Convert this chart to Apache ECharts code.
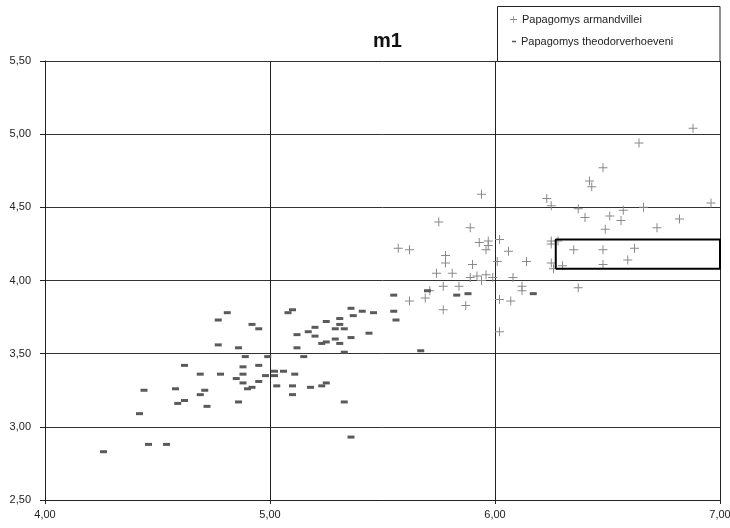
<!DOCTYPE html>
<html>
<head>
<meta charset="utf-8">
<script src="https://cdn.jsdelivr.net/npm/echarts@6/dist/echarts.min.js"></script>
<style>html,body{margin:0;padding:0;background:#fff}#c{width:730px;height:528px}</style>
</head>
<body>
<div id="c"></div>
<script>
const titleText = 'm1';
const seriesNames = ['Papagomys armandvillei', 'Papagomys theodorverhoeveni'];
const xTicks = [4, 5, 6, 7];
const yTicks = [2.5, 3, 3.5, 4, 4.5, 5, 5.5];

const armX = [5.57,5.62,5.62,5.69,5.71,5.74,5.75,5.77,5.77,5.78,5.78,5.81,5.84,5.87,5.89,5.89,5.90,5.92,5.93,5.94,5.94,5.96,5.96,5.97,5.97,5.99,6.01,6.02,6.02,6.02,6.06,6.07,6.08,6.12,6.12,6.14,6.23,6.25,6.25,6.25,6.25,6.26,6.28,6.30,6.35,6.37,6.37,6.40,6.42,6.43,6.48,6.48,6.48,6.49,6.51,6.56,6.57,6.59,6.62,6.64,6.66,6.72,6.82,6.88,6.96];
const armY = [4.22,4.21,3.86,3.88,3.93,4.05,4.40,3.96,3.80,4.17,4.12,4.05,3.96,3.83,4.36,4.02,4.11,4.03,4.26,4.59,4.00,4.04,4.21,4.27,4.24,4.02,4.13,4.28,3.87,3.65,4.20,3.86,4.02,3.93,3.96,4.13,4.56,4.51,4.27,4.25,4.12,4.08,4.27,4.10,4.21,3.95,4.49,4.43,4.68,4.64,4.21,4.11,4.77,4.35,4.44,4.41,4.48,4.14,4.22,4.94,4.50,4.36,4.42,5.04,4.53];

const theoX = [4.26,4.42,4.44,4.46,4.54,4.58,4.59,4.62,4.62,4.69,4.69,4.71,4.72,4.77,4.77,4.78,4.81,4.85,4.86,4.86,4.88,4.88,4.88,4.89,4.90,4.92,4.92,4.95,4.95,4.95,4.98,4.99,5.02,5.02,5.03,5.06,5.08,5.10,5.10,5.10,5.11,5.12,5.12,5.15,5.17,5.18,5.20,5.20,5.23,5.23,5.25,5.25,5.25,5.29,5.29,5.31,5.31,5.31,5.33,5.33,5.33,5.36,5.36,5.36,5.37,5.41,5.44,5.46,5.55,5.55,5.56,5.67,5.70,5.83,5.88,6.17];
const theoY = [2.83,3.09,3.25,2.88,2.88,3.26,3.16,3.42,3.18,3.36,3.22,3.25,3.14,3.73,3.56,3.36,3.78,3.33,3.54,3.17,3.41,3.36,3.30,3.48,3.26,3.70,3.27,3.31,3.67,3.42,3.35,3.48,3.38,3.35,3.28,3.38,3.78,3.80,3.28,3.22,3.36,3.63,3.54,3.48,3.65,3.27,3.62,3.68,3.28,3.57,3.72,3.30,3.58,3.67,3.60,3.74,3.70,3.57,3.51,3.17,3.67,3.61,3.81,2.93,3.76,3.79,3.64,3.78,3.90,3.79,3.73,3.52,3.93,3.90,3.91,3.91];

const boxX = [6.27, 7.0, 7.0, 6.27, 6.27];
const boxY = [4.08, 4.08, 4.28, 4.28, 4.08];

const zip = (a, b) => a.map((v, i) => [v, b[i]]);
const fmt = v => v.toFixed(2).replace('.', ',');
const FONT = "'Liberation Sans', Arial, sans-serif";
const plusPath = 'path://M0,4H9V5H0Z M4,0H5V9H4Z';

const chart = echarts.init(document.getElementById('c'), null, {renderer: 'canvas'});
chart.setOption({
  animation: false,
  backgroundColor: '#fff',
  title: {
    text: titleText, left: 368, top: 26,
    textStyle: {fontFamily: FONT, fontSize: 20, fontWeight: 'bold', color: '#111'}
  },
  grid: {left: 45, right: 10, top: 61, bottom: 28, containLabel: false, outerBoundsMode: 'none'},
  legend: [
    {
      data: [{name: seriesNames[0], icon: plusPath}],
      left: 505, top: 9, itemWidth: 7, itemHeight: 7, itemGap: 4,
      textStyle: {fontFamily: FONT, fontSize: 11, color: '#222', padding: [0, 0, 0, 0]}
    },
    {
      data: [{name: seriesNames[1], icon: 'rect'}],
      left: 507, top: 31, itemWidth: 4, itemHeight: 1.5, itemGap: 4,
      textStyle: {fontFamily: FONT, fontSize: 11, color: '#222', padding: [0, 0, 0, 0]}
    }
  ],
  graphic: [
    {type: 'rect', shape: {x: 497.5, y: 6.5, width: 222.5, height: 55}, style: {fill: 'none', stroke: '#222', lineWidth: 1}, z: 10}
  ],
  xAxis: {
    type: 'value', min: 4, max: 7, interval: 1,
    axisLine: {show: true, onZero: false, lineStyle: {color: '#222', width: 1}},
    axisTick: {show: true, length: 4, lineStyle: {color: '#222'}},
    axisLabel: {formatter: fmt, fontFamily: FONT, fontSize: 11, color: '#222', margin: 9},
    splitLine: {show: true, lineStyle: {color: '#222', width: 1}}
  },
  yAxis: {
    type: 'value', min: 2.5, max: 5.5, interval: 0.5,
    axisLine: {show: true, onZero: false, lineStyle: {color: '#222', width: 1}},
    axisTick: {show: true, length: 5, lineStyle: {color: '#222'}},
    axisLabel: {formatter: fmt, fontFamily: FONT, fontSize: 11, color: '#222', margin: 14},
    splitLine: {show: true, lineStyle: {color: '#333', width: 1}}
  },
  series: [
    {
      name: seriesNames[0], type: 'scatter', data: zip(armX, armY),
      symbol: plusPath, symbolSize: 9,
      itemStyle: {color: '#8a8a8a', opacity: 1}, z: 3
    },
    {
      name: seriesNames[1], type: 'scatter', data: zip(theoX, theoY),
      symbol: 'rect', symbolSize: [7, 3],
      itemStyle: {color: '#5a5a5a', opacity: 1}, z: 3
    },
    {
      name: 'box', type: 'line', data: zip(boxX, boxY), symbol: 'none', silent: true,
      lineStyle: {color: '#000', width: 2}, z: 4, legendHoverLink: false
    }
  ]
});
</script>
</body>
</html>
